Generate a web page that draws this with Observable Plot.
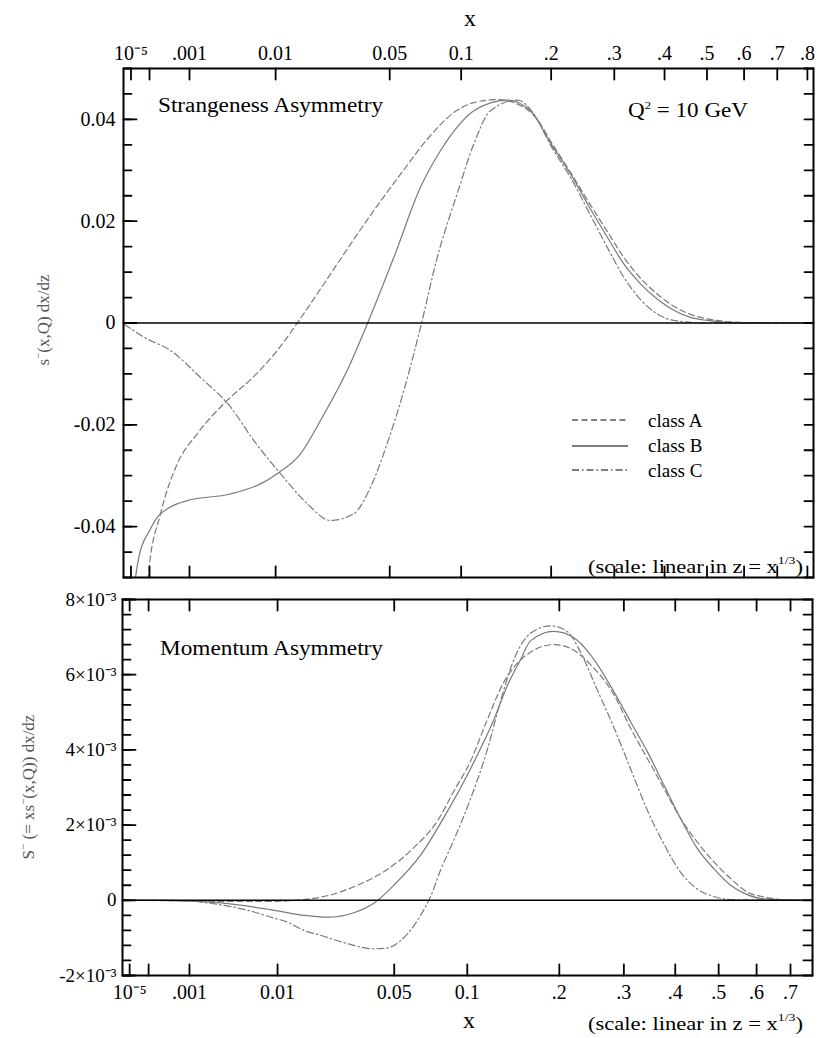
<!DOCTYPE html>
<html><head><meta charset="utf-8">
<script src="https://cdn.jsdelivr.net/npm/d3@7"></script>
<script src="https://cdn.jsdelivr.net/npm/@observablehq/plot@0.6"></script>
<style>
body{margin:0;background:#fff;}
#wrap{position:relative;width:817px;height:1038px;overflow:hidden;background:#fff;}
#wrap > svg{position:absolute;left:0;}
#wrap svg text{font-family:"Liberation Serif","Times New Roman",serif;}
</style></head><body><div id="wrap"></div>
<script>
// ---------- data: strangeness asymmetry  [x, s^-(x,Q) dx/dz] ----------
const strangeA = [[8.0e-5,-0.0525],[9.4e-5,-0.0486],[2.28e-4,-0.0375],[5.82e-4,-0.0277],[1.34e-3,-0.0218],[3.41e-3,-0.0152],[6.46e-3,-0.0105],[0.0103,-0.0054],[0.0154,0.0009],[0.0231,0.0087],[0.0328,0.0164],[0.0451,0.0239],[0.0581,0.0301],[0.0734,0.0361],[0.0966,0.0418],[0.1114,0.0433],[0.1346,0.0439],[0.1647,0.0424],[0.1857,0.0391],[0.199,0.0358],[0.2278,0.0296],[0.2591,0.0232],[0.2874,0.0180],[0.3175,0.0129],[0.3498,0.0088],[0.3841,0.0057],[0.4205,0.0033],[0.4594,0.0017],[0.5006,0.0008],[0.55,0.0003],[0.6,0.0001],[0.821,0]];
const strangeB = [[1.6e-5,-0.0525],[3.3e-5,-0.0460],[1.0e-4,-0.0408],[1.82e-4,-0.0382],[4.0e-4,-0.0362],[9.1e-4,-0.0349],[3.72e-3,-0.0336],[7.44e-3,-0.0316],[0.0103,-0.0296],[0.0154,-0.0257],[0.0209,-0.0192],[0.0302,-0.0093],[0.0387,-0.0002],[0.0523,0.0129],[0.0688,0.0267],[0.0832,0.0339],[0.0966,0.0385],[0.1114,0.0417],[0.1454,0.0438],[0.1729,0.0417],[0.199,0.0354],[0.2278,0.0293],[0.2591,0.0224],[0.2874,0.0169],[0.3175,0.0116],[0.3498,0.0077],[0.3841,0.0047],[0.4205,0.0025],[0.4594,0.0011],[0.5006,0.0005],[0.5897,0],[0.821,0]];
const strangeC = [[2.0e-6,-0.0003],[1.62e-5,-0.0015],[6.0e-5,-0.0028],[4.14e-4,-0.0054],[1.51e-3,-0.0107],[3.72e-3,-0.0165],[6.46e-3,-0.0231],[0.01094,-0.0296],[0.01713,-0.0355],[0.02414,-0.0388],[0.0328,-0.0375],[0.0402,-0.0323],[0.0486,-0.0237],[0.0581,-0.0133],[0.0688,-0.0008],[0.0806,0.0128],[0.0966,0.0254],[0.1114,0.0352],[0.1276,0.0417],[0.1568,0.0438],[0.1770,0.0411],[0.199,0.0350],[0.2278,0.0286],[0.2591,0.0212],[0.2874,0.0149],[0.3175,0.0090],[0.3498,0.0046],[0.3841,0.0018],[0.4205,0.0005],[0.50,0],[0.821,0]];

// ---------- data: momentum asymmetry  [x, S^- dx/dz] ----------
const momA = [[2e-6,0],[1e-4,0],[1e-3,-0.00001],[3e-3,-0.00003],[8.8e-3,-0.00003],[0.0156,0.00002],[0.0221,0.00012],[0.0314,0.00036],[0.0463,0.00082],[0.0612,0.0014],[0.0766,0.0021],[0.0890,0.0029],[0.1028,0.0037],[0.1179,0.0048],[0.1343,0.0058],[0.1449,0.0062],[0.1637,0.0066],[0.1927,0.0068],[0.2155,0.0067],[0.245,0.00627],[0.2827,0.00547],[0.3119,0.00458],[0.3431,0.00378],[0.3761,0.00298],[0.4113,0.00218],[0.4488,0.00155],[0.4882,0.00102],[0.5301,0.00058],[0.5742,0.00022],[0.6205,0.00009],[0.6695,0.00002],[0.77,0]];
const momB = [[2e-6,0],[1e-4,0],[1e-3,-0.00002],[2.8e-3,-0.00007],[6.3e-3,-0.00018],[8.8e-3,-0.00025],[0.0156,-0.0004],[0.0221,-0.00045],[0.0314,-0.00033],[0.0399,-0.00008],[0.0498,0.0004],[0.0654,0.0012],[0.0814,0.0022],[0.1028,0.0035],[0.1242,0.0048],[0.1378,0.0057],[0.1523,0.0064],[0.1637,0.0069],[0.1927,0.00715],[0.2203,0.00698],[0.245,0.00653],[0.2827,0.00555],[0.3119,0.00475],[0.3431,0.00396],[0.3761,0.00307],[0.4113,0.00218],[0.4488,0.00138],[0.4882,0.00084],[0.5301,0.0004],[0.5742,0.00015],[0.6205,0.00004],[0.77,0]];
const momC = [[2e-6,0],[1e-4,0],[1e-3,-0.00002],[1.7e-3,-0.00006],[2.8e-3,-0.00012],[6.3e-3,-0.00031],[0.0088,-0.00045],[0.0119,-0.00058],[0.0156,-0.0008],[0.0201,-0.00093],[0.0265,-0.0011],[0.0314,-0.0012],[0.0399,-0.00129],[0.0463,-0.00127],[0.0498,-0.0012],[0.0573,-0.0009],[0.0654,-0.0004],[0.072,0.0001],[0.079,0.0008],[0.089,0.0016],[0.1028,0.0027],[0.1179,0.0040],[0.1309,0.0053],[0.1449,0.0064],[0.1637,0.0071],[0.1884,0.0073],[0.2108,0.00715],[0.2299,0.0066],[0.2554,0.0056],[0.2827,0.0046],[0.3119,0.0035],[0.3431,0.0024],[0.3761,0.0015],[0.4113,0.00075],[0.4488,0.0003],[0.4882,0.0001],[0.5301,0.00002],[0.77,0]];

// ---------- ticks ----------
const topTickVals   = [1e-5, 1e-3, 0.01, 0.05, 0.1, 0.2, 0.3, 0.4, 0.5, 0.6, 0.7, 0.8];
const topTickLabels = ["10⁻⁵", ".001", "0.01", "0.05", "0.1", ".2", ".3", ".4", ".5", ".6", ".7", ".8"];
const topTickMarks  = [1e-5, 1e-4, 1e-3, 0.01, 0.05, 0.1, 0.2, 0.3, 0.4, 0.5, 0.6, 0.7, 0.8];
const botTickVals   = [1e-5, 1e-3, 0.01, 0.05, 0.1, 0.2, 0.3, 0.4, 0.5, 0.6, 0.7];
const botTickLabels = ["10⁻⁵", ".001", "0.01", "0.05", "0.1", ".2", ".3", ".4", ".5", ".6", ".7"];
const botTickMarks  = [1e-5, 1e-4, 1e-3, 0.01, 0.05, 0.1, 0.2, 0.3, 0.4, 0.5, 0.6, 0.7];
const sTickVals   = [-0.04, -0.02, 0, 0.02, 0.04];
const sTickLabels = ["-0.04", "-0.02", "0", "0.02", "0.04"];
const sMinorStep = 0.005;
const mTickVals   = [-0.002, 0, 0.002, 0.004, 0.006, 0.008];
const mTickLabels = ["-2×10⁻³", "0", "2×10⁻³", "4×10⁻³", "6×10⁻³", "8×10⁻³"];
const mMinorStep = 0.0004;

const FONT = "Liberation Serif";
const CURVE = "#7a7a7a";
const tickShape = {draw(ctx, l) { ctx.moveTo(0, 0); ctx.lineTo(0, -l); }};

function frameTicks(xMarks, yMajor, yAll) {
  const c = {shape: tickShape, anchor: "start", stroke: "black", strokeWidth: 1.8};
  return [
    Plot.vector(xMarks, {x: d => d, frameAnchor: "bottom", rotate: 0, length: 11, ...c}),
    Plot.vector(xMarks, {x: d => d, frameAnchor: "top", rotate: 180, length: 11, ...c}),
    Plot.vector(yAll, {y: d => d, frameAnchor: "left", rotate: 90, length: 8, ...c}),
    Plot.vector(yMajor, {y: d => d, frameAnchor: "left", rotate: 90, length: 13, ...c}),
    Plot.vector(yAll, {y: d => d, frameAnchor: "right", rotate: -90, length: 9, ...c})
  ];
}
function curves(a, b, c) {
  const o = {x: d => d[0], y: d => d[1], stroke: CURVE, strokeWidth: 1.2, curve: "monotone-x", clip: true};
  return [
    Plot.line(a, {...o, strokeDasharray: "6,3.5"}),
    Plot.line(b, {...o}),
    Plot.line(c, {...o, strokeDasharray: "7,3,1.5,3"})
  ];
}
const steps = (lo, hi, st) => d3.range(Math.round((hi - lo) / st) + 1).map(i => +(lo + i * st).toFixed(6));
const axisText = {tickSize: 0, label: null, fontFamily: FONT, fill: "black"};

const plotTop = Plot.plot({
  width: 817, height: 590,
  marginTop: 68, marginBottom: 13, marginLeft: 123, marginRight: 4,
  x: {type: "pow", exponent: 1/3, domain: [1.53e-6, 0.8213]},
  y: {domain: [-0.05, 0.05]},
  style: {fontFamily: FONT, fontSize: "20px", color: "black", background: "transparent", overflow: "visible"},
  marks: [
    ...curves(strangeA, strangeB, strangeC),
    Plot.ruleY([0], {stroke: "black", strokeWidth: 1.6}),
    Plot.frame({stroke: "black", strokeWidth: 2}),
    ...frameTicks(topTickMarks, sTickVals, steps(-0.05, 0.05, sMinorStep)),
    Plot.axisX({anchor: "top", ticks: topTickVals, tickFormat: d => topTickLabels[topTickVals.indexOf(d)], tickPadding: 9, fontSize: 20, ...axisText}),
    Plot.axisY({anchor: "left", ticks: sTickVals, tickFormat: d => sTickLabels[sTickVals.indexOf(d)], tickPadding: 8, fontSize: 20, ...axisText})
  ]
});
plotTop.style.top = "0px";

const plotBot = Plot.plot({
  width: 817, height: 448,
  marginTop: 9, marginBottom: 63, marginLeft: 122, marginRight: 5,
  x: {type: "pow", exponent: 1/3, domain: [1.81e-6, 0.7704]},
  y: {domain: [-0.002, 0.008]},
  style: {fontFamily: FONT, fontSize: "20px", color: "black", background: "transparent", overflow: "visible"},
  marks: [
    ...curves(momA, momB, momC),
    Plot.ruleY([0], {stroke: "black", strokeWidth: 1.6}),
    Plot.frame({stroke: "black", strokeWidth: 2}),
    ...frameTicks(botTickMarks, mTickVals, steps(-0.002, 0.008, mMinorStep)),
    Plot.axisX({anchor: "bottom", ticks: botTickVals, tickFormat: d => botTickLabels[botTickVals.indexOf(d)], tickPadding: 9, fontSize: 20, ...axisText}),
    Plot.axisY({anchor: "left", ticks: mTickVals, tickFormat: d => mTickLabels[mTickVals.indexOf(d)], tickPadding: 6, fontSize: 19, ...axisText})
  ]
});
plotBot.style.top = "590px";

const wrap = document.getElementById("wrap");
wrap.appendChild(plotTop);
wrap.appendChild(plotBot);

// ---------- titles, annotations, legend ----------
const ov = `
<svg xmlns="http://www.w3.org/2000/svg" width="817" height="1038" style="position:absolute;left:0;top:0;pointer-events:none">
  <text x="470" y="26" text-anchor="middle" font-size="24">x</text>
  <text x="469" y="1028" text-anchor="middle" font-size="24">x</text>
  <text x="158" y="112" font-size="20" textLength="225" lengthAdjust="spacingAndGlyphs">Strangeness Asymmetry</text>
  <text x="628" y="117" font-size="20" textLength="120" lengthAdjust="spacingAndGlyphs">Q<tspan dy="-8" font-size="11">2</tspan><tspan dy="8"> = 10 GeV</tspan></text>
  <text x="160" y="655" font-size="20" textLength="223" lengthAdjust="spacingAndGlyphs">Momentum Asymmetry</text>
  <text x="588" y="573" font-size="18" textLength="215" lengthAdjust="spacingAndGlyphs">(scale: linear in z = x<tspan dy="-9" font-size="11">1/3</tspan><tspan dy="9">)</tspan></text>
  <text x="588" y="1030" font-size="18" textLength="215" lengthAdjust="spacingAndGlyphs">(scale: linear in z = x<tspan dy="-9" font-size="11">1/3</tspan><tspan dy="9">)</tspan></text>
  <g stroke="#555" stroke-width="1.3">
    <line x1="572" x2="628" y1="420" y2="420" stroke-dasharray="6,3.5"/>
    <line x1="572" x2="628" y1="446" y2="446"/>
    <line x1="572" x2="628" y1="470" y2="470" stroke-dasharray="7,3,1.5,3"/>
  </g>
  <text x="648" y="427" font-size="19">class A</text>
  <text x="648" y="452" font-size="19">class B</text>
  <text x="648" y="477" font-size="19">class C</text>
  <text transform="translate(49,320) rotate(-90)" text-anchor="middle" font-size="17" fill="#555">s<tspan dy="-7" font-size="11">−</tspan><tspan dy="7">(x,Q) dx/dz</tspan></text>
  <text transform="translate(34,787) rotate(-90)" text-anchor="middle" font-size="17" fill="#555">S<tspan dy="-7" font-size="11">−</tspan><tspan dy="7"> (= xs</tspan><tspan dy="-7" font-size="11">−</tspan><tspan dy="7">(x,Q)) dx/dz</tspan></text>
</svg>`;
wrap.insertAdjacentHTML("beforeend", ov);
</script>
</body></html>
